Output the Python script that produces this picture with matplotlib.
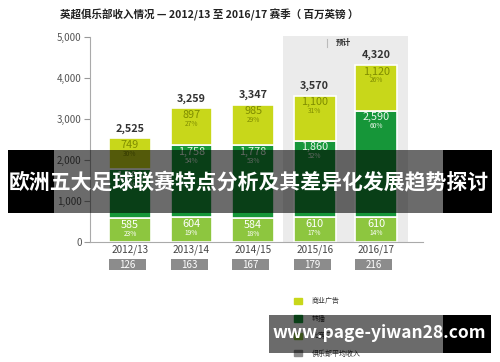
import matplotlib
matplotlib.use("Agg")
import matplotlib.pyplot as plt
from matplotlib.patches import Rectangle, Patch
import matplotlib.transforms as mtransforms

plt.rcParams['font.family'] = ['Noto Sans CJK SC', 'DejaVu Sans']

seasons = ["2012/13", "2013/14", "2014/15", "2015/16", "2016/17"]
matchday = [585, 604, 584, 610, 610]
broadcast = [1191, 1758, 1778, 1860, 2590]
commercial = [749, 897, 985, 1100, 1120]
totals = [2525, 3259, 3347, 3570, 4320]
pct_matchday = ["23%", "19%", "18%", "17%", "14%"]
pct_broadcast = ["47%", "54%", "53%", "52%", "60%"]
pct_commercial = ["30%", "27%", "29%", "31%", "26%"]
avg_club = [126, 163, 167, 179, 216]
yticks = [0, 1000, 2000, 3000, 4000, 5000]
legend_labels = ["商业广告", "转播", "比赛日", "俱乐部平均收入"]
forecast_label = "预计"
title = "英超俱乐部收入情况 — 2012/13 至 2016/17 赛季（ 百万英镑 ）"
banner_text = "欧洲五大足球联赛特点分析及其差异化发展趋势探讨"
url_text = "www.page-yiwan28.com"

C_COM = "#c8d71a"
C_BRO = "#169639"
C_MAT = "#8dc63f"
C_AVG = "#8c8c8c"
C_OLIVE = "#7f8c00"

W, H = 500, 362
fig = plt.figure(figsize=(W / 100, H / 100), dpi=100)
fig.patch.set_facecolor("white")

# main axes (pixel-based placement)
ax_left, ax_right, ax_bottom_px, ax_top_px = 90, 423, 242, 34.5
ax = fig.add_axes([ax_left / W, (H - ax_bottom_px) / H,
                   (ax_right - ax_left) / W, (ax_bottom_px - ax_top_px) / H])
x = list(range(len(seasons)))
bw = 0.68

# forecast shading
ax.axvspan(2.49, 4.52, ymin=0, ymax=0.995, color="#ebebeb", zorder=0, lw=0)
ax.text(3.46, 4860, forecast_label, ha="center", va="center", fontsize=5.5,
        fontweight="bold", color="#333333")
ax.plot([3.2, 3.2], [4760, 4940], color="#bbbbbb", lw=0.8)

ax.bar(x, matchday, bw, color=C_MAT, edgecolor="white", lw=1.2, zorder=2)
ax.bar(x, broadcast, bw, bottom=matchday, color=C_BRO, edgecolor="white", lw=1.2, zorder=2)
bot3 = [m + b for m, b in zip(matchday, broadcast)]
ax.bar(x, commercial, bw, bottom=bot3, color=C_COM, edgecolor="white", lw=1.2, zorder=2)

def seg_labels(tops, vals, pcts, col):
    for xi, t, v, p in zip(x, tops, vals, pcts):
        ax.annotate(f"{v:,}", (xi, t), xytext=(0, -4.8), textcoords="offset points",
                    ha="center", va="center", fontsize=7.8, color=col, zorder=3)
        ax.annotate(p, (xi, t), xytext=(0, -11.2), textcoords="offset points",
                    ha="center", va="center", fontsize=4.8, color=col, zorder=3)

seg_labels(matchday, matchday, pct_matchday, "white")
seg_labels(bot3, broadcast, pct_broadcast, "#e8f5e8")
seg_labels(totals, commercial, pct_commercial, C_OLIVE)
for xi, t in zip(x, totals):
    ax.annotate(f"{t:,}", (xi, t), xytext=(0, 7), textcoords="offset points",
                ha="center", va="center", fontsize=7.8, color="#333333",
                fontweight="semibold")

ax.set_xlim(-0.65, 4.76)
ax.set_ylim(0, 5060)
ax.set_yticks(yticks)
ax.set_yticklabels([f"{v:,}" for v in yticks])
ax.set_xticks(x)
ax.set_xticklabels(seasons)
ax.tick_params(axis="y", direction="out", length=4, width=0.8, color="#999999",
               labelsize=7, labelcolor="#555555", pad=2)
ax.tick_params(axis="x", length=0, labelsize=7.2, labelcolor="#444444", pad=2)
for s in ["top", "right"]:
    ax.spines[s].set_visible(False)
ax.spines["left"].set_bounds(0, 5000)
for s in ["left", "bottom"]:
    ax.spines[s].set_color("#aaaaaa")
    ax.spines[s].set_linewidth(0.8)
ax.set_facecolor("none")

# average revenue boxes below x labels
trans = mtransforms.blended_transform_factory(ax.transData, ax.transAxes)
box_h = 11 / (ax_bottom_px - ax_top_px)
box_y = -(270 - ax_bottom_px) / (ax_bottom_px - ax_top_px)
for xi, v in zip(x, avg_club):
    ax.add_patch(Rectangle((xi - bw / 2, box_y), 0.6, box_h, transform=trans,
                           color=C_AVG, clip_on=False, lw=0))
    ax.text(xi - bw / 2 + 0.3, box_y + box_h / 2, str(v), transform=trans,
            ha="center", va="center", fontsize=7, color="white")

# title
fig.text(60 / W, 1 - 15 / H, title, ha="left", va="center", fontsize=7.6,
         fontweight="bold", color="#222222")

# legend
handles = [Patch(color=c) for c in [C_COM, C_BRO, C_MAT, C_AVG]]
fig.legend(handles, legend_labels, loc="upper left",
           bbox_to_anchor=(291 / W, 1 - 294 / H), frameon=False, fontsize=5,
           handlelength=1.1, handleheight=1.0, labelspacing=1.35,
           handletextpad=1.4, borderpad=0, labelcolor="#333333")

# overlay banners
ov = fig.add_axes([0, 0, 1, 1], zorder=10)
ov.set_xlim(0, W)
ov.set_ylim(H, 0)
ov.axis("off")
ov.add_patch(Rectangle((8, 150), 46, 63, color="black", lw=0))
ov.add_patch(Rectangle((54, 150), 389, 63, color="black", alpha=0.58, lw=0))
ov.add_patch(Rectangle((443, 150), 49, 63, color="black", lw=0))
ov.text(249, 183, banner_text, ha="center", va="center", fontsize=15,
        fontweight="bold", color="white")
ov.add_patch(Rectangle((269, 315), 174, 38, color="black", alpha=0.58, lw=0))
ov.add_patch(Rectangle((443, 315), 48, 38, color="black", lw=0))
ov.text(379, 333, url_text, ha="center", va="center", fontsize=12.5,
        fontweight="bold", color="white")

fig.savefig("out.png", dpi=100)
